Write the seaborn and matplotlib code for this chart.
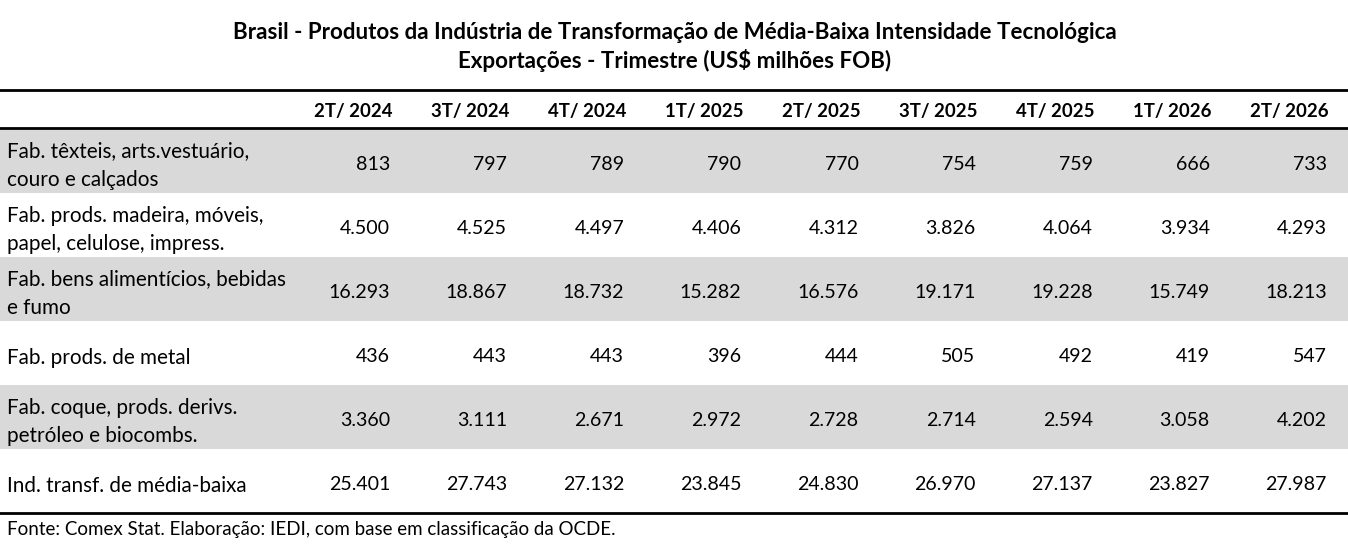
import numpy as np
import pandas as pd
import matplotlib
matplotlib.use("Agg")
import matplotlib.pyplot as plt
from matplotlib.colors import ListedColormap
import seaborn as sns

# Data
title = ("Brasil - Produtos da Indústria de Transformação de Média-Baixa Intensidade Tecnológica\n"
         "Exportações - Trimestre (US$ milhões FOB)")
quarters = ["2T/ 2024", "3T/ 2024", "4T/ 2024", "1T/ 2025", "2T/ 2025",
            "3T/ 2025", "4T/ 2025", "1T/ 2026", "2T/ 2026"]
sectors = ["Fab. têxteis, arts.vestuário,\ncouro e calçados",
           "Fab. prods. madeira, móveis,\npapel, celulose, impress.",
           "Fab. bens alimentícios, bebidas\ne fumo",
           "Fab. prods. de metal",
           "Fab. coque, prods. derivs.\npetróleo e biocombs.",
           "Ind. transf. de média-baixa"]
texteis = [813, 797, 789, 790, 770, 754, 759, 666, 733]
madeira = [4500, 4525, 4497, 4406, 4312, 3826, 4064, 3934, 4293]
alimentos = [16293, 18867, 18732, 15282, 16576, 19171, 19228, 15749, 18213]
metal = [436, 443, 443, 396, 444, 505, 492, 419, 547]
coque = [3360, 3111, 2671, 2972, 2728, 2714, 2594, 3058, 4202]
total = [25401, 27743, 27132, 23845, 24830, 26970, 27137, 23827, 27987]
source = "Fonte: Comex Stat. Elaboração: IEDI, com base em classificação da OCDE."

df = pd.DataFrame([texteis, madeira, alimentos, metal, coque, total],
                  index=sectors, columns=quarters)

def fmt(v):
    return f"{v:,}".replace(",", ".")

W, H = 1348, 544
font = "Lato"

fig = plt.figure(figsize=(W / 100, H / 100), dpi=100)

# striped row backgrounds via heatmap
top, bottom = 129, 513
bands = np.array([[1 - (i % 2)] for i in range(len(sectors))])
ax_b = fig.add_axes([0, 1 - bottom / H, 1, (bottom - top) / H])
sns.heatmap(bands, cmap=ListedColormap(["white", "#d9d9d9"]), cbar=False,
            xticklabels=False, yticklabels=False, ax=ax_b)
ax_b.axis("off")

ax = fig.add_axes([0, 0, 1, 1])
ax.set_xlim(0, W)
ax.set_ylim(H, 0)
ax.axis("off")
ax.patch.set_alpha(0)

ax.text(W / 2 + 1, 47, title, ha="center", va="center", fontsize=16.1,
        fontweight="bold", family=font, linespacing=1.3)

for y in (90, 128, bottom):
    ax.axhline(y, color="black", lw=2.0)

col_right = 392
col_step = 117.1
row_h = (bottom - top) / len(sectors)

for j, q in enumerate(quarters):
    ax.text(col_right + j * col_step, 111, q, ha="right", va="center",
            fontsize=13.4, fontweight="bold", family=font)

for i, s in enumerate(df.index):
    yc = top + row_h * (i + 0.5)
    ax.text(7, yc + 4.5, s, ha="left", va="center", fontsize=14.9, family=font,
            linespacing=1.5)
    for j, q in enumerate(quarters):
        ax.text(col_right - 2 + j * col_step, yc + 3.5, fmt(df.loc[s, q]),
                ha="right", va="center", fontsize=14.1, family=font)

ax.text(7, 530, source, ha="left", va="center", fontsize=13.5, family=font)

fig.savefig("out.png", dpi=100)
